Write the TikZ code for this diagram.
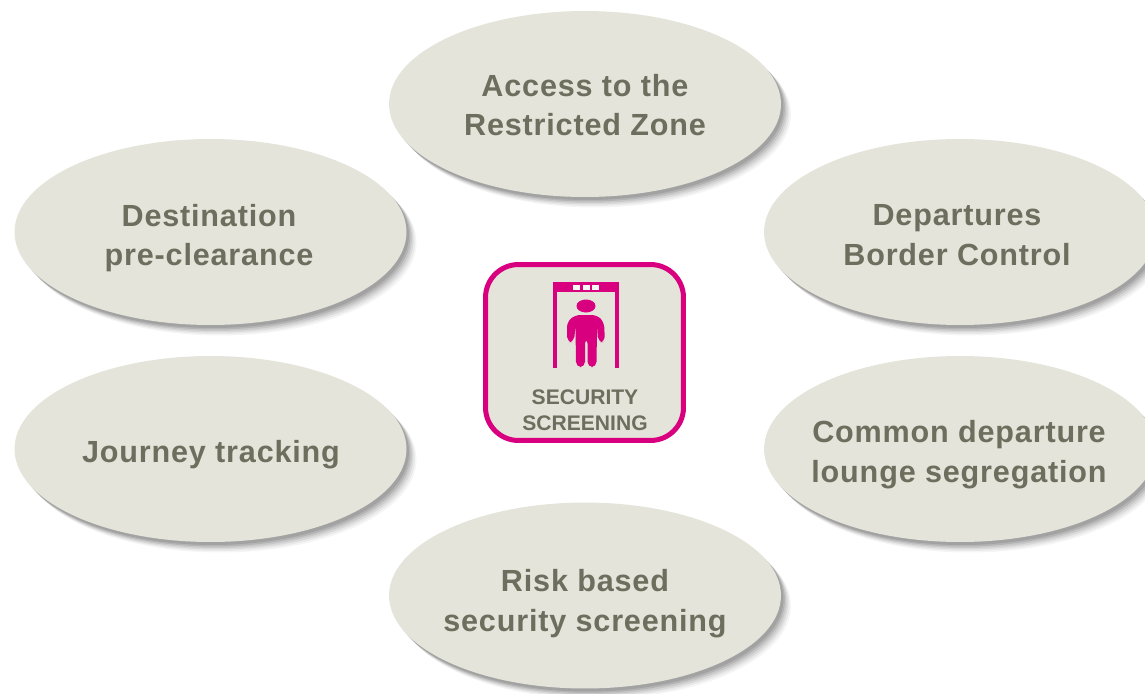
\documentclass[tikz,border=0pt]{standalone}
\usepackage{fontspec}
\setmainfont{Liberation Sans}
\usepackage{xcolor}
\usetikzlibrary{shapes.geometric,shadows}
\definecolor{stonefill}{HTML}{E4E4DB}
\definecolor{stonetext}{HTML}{6E6E5E}
\definecolor{gatepink}{HTML}{D9007F}
\tikzset{
    softshadow/.style={
        general shadow={fill=black,opacity=.04,shadow xshift=2.0mm,shadow yshift=-2.1mm},
        general shadow={fill=black,opacity=.05,shadow xshift=1.7mm,shadow yshift=-1.8mm},
        general shadow={fill=black,opacity=.07,shadow xshift=1.4mm,shadow yshift=-1.5mm},
        general shadow={fill=black,opacity=.08,shadow xshift=1.1mm,shadow yshift=-1.2mm},
        general shadow={fill=black,opacity=.10,shadow xshift=.8mm,shadow yshift=-.9mm},
        general shadow={fill=black,opacity=.10,shadow xshift=.5mm,shadow yshift=-.6mm}},
    measure/.style={ellipse, softshadow, fill=stonefill, inner sep=0pt,
        minimum width=7.84cm, minimum height=3.72cm},
    measurelabel/.style={text=stonetext, align=center,
        font=\fontsize{17.4}{22.6}\selectfont\bfseries\addfontfeatures{LetterSpace=2.7}},
    gatepart/.style={fill=gatepink, draw=none}
}
\begin{document}
\begin{tikzpicture}[x=0.02cm,y=-0.02cm]
    \useasboundingbox (0,0) rectangle (1145,693);
    \clip (0,0) rectangle (1145,693);

    \node[measure] (access)      at (585,104)   {};
    \node[measure] (destination) at (210.5,232) {};
    \node[measure] (departures)  at (960,232)   {};
    \node[measure] (journey)     at (210.5,449) {};
    \node[measure] (lounge)      at (960,449)   {};
    \node[measure] (risk)        at (585,595.5) {};

    \node[measurelabel] (accesslabel)      at (585,105) {Access to the\\Restricted Zone};
    \node[measurelabel] (destinationlabel) at (209,238) {Destination\\pre-clearance};
    \node[measurelabel] (departureslabel)  at (957,235) {Departures\\Border Control};
    \node[measurelabel] (journeylabel)     at (211,455) {Journey  tracking};
    \node[measurelabel] (loungelabel)      at (959,455) {Common departure\\lounge segregation};
    \node[measurelabel] (risklabel)        at (585,604) {Risk based\\security screening};

    % centre box
    \node[draw=gatepink, fill=stonefill, line width=1.0mm, rounded corners=6.6mm,
          minimum width=3.96cm, minimum height=3.52cm] (screening) at (584.5,352.5) {};
    \node[text=stonetext, align=center, font=\fontsize{12}{14.6}\selectfont\bfseries]
          (screeninglabel) at (585,410) {SECURITY\\SCREENING};

    % gate
    \fill[gatepart] (553,282) rectangle (619,292);
    \fill[gatepart] (553,282) rectangle (557,368);
    \fill[gatepart] (615,282) rectangle (619,368);
    \foreach \x in {573,583,592}
        \fill[white!70!stonefill] (\x,285) rectangle +(6.5,5);

    % person
    \fill[gatepart] (586,306) ellipse (9.5 and 6.5);
    \fill[gatepart, rounded corners=3pt]
        (575,315) -- (597,315) -- (604,322) -- (605,342) -- (598,342) -- (597,325)
        -- (596.5,367) -- (587.5,367) -- (587.5,338) -- (585,338) -- (585,367)
        -- (576,367) -- (575.5,325) -- (574,342) -- (567,342) -- (567,322) -- cycle;
\end{tikzpicture}
\end{document}
